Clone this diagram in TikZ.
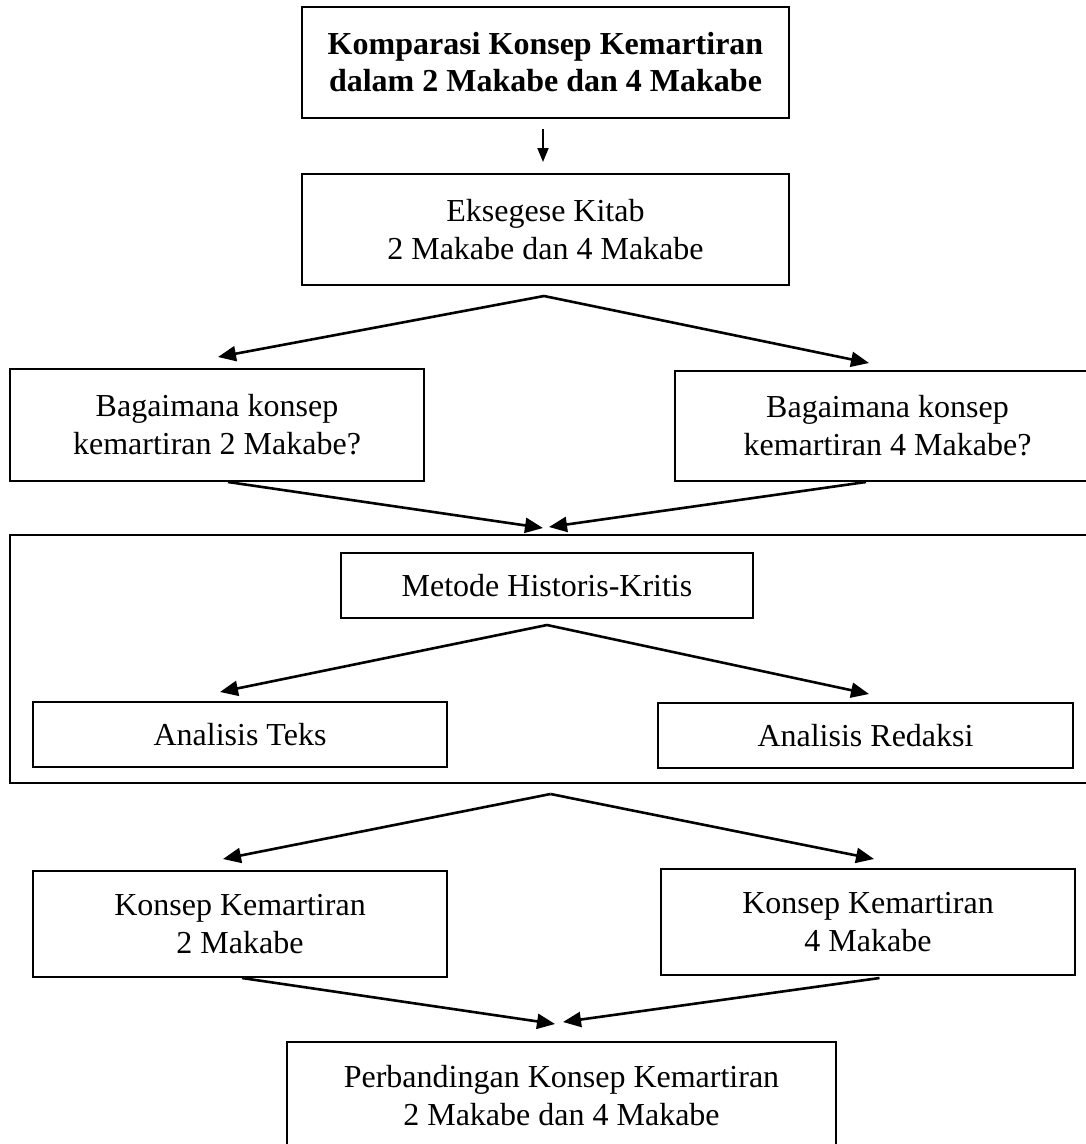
\documentclass[tikz,border=0pt]{standalone}
\usepackage{fontspec}
\setmainfont{Liberation Serif}
\usetikzlibrary{arrows.meta,calc}
\tikzset{
  basebox/.style={rectangle,draw=black,line width=2pt,align=center,inner sep=0pt,
    font=\fontsize{32}{38}\selectfont},
  titlebox/.style={basebox,font=\fontsize{32}{37}\selectfont\bfseries},
  arr/.style={-{Triangle[length=18pt,width=15pt]},line width=2.6pt},
  smallarr/.style={-{Triangle[length=14pt,width=11pt]},line width=1.8pt}
}
\begin{document}
\begin{tikzpicture}[x=1pt,y=-1pt]
  \clip (0,0) rectangle (1086,1144);
  \fill[white] (0,0) rectangle (1086,1144);

  \node[titlebox,minimum width=487pt,minimum height=111pt] (title) at (545.5,62.5)
      {Komparasi Konsep Kemartiran\\dalam 2 Makabe dan 4 Makabe};
  \node[basebox,minimum width=487pt,minimum height=111pt] (exeg) at (545.5,229.5)
      {Eksegese Kitab\\2 Makabe dan 4 Makabe};
  \node[basebox,minimum width=414pt,minimum height=112pt] (q2) at (217,425)
      {Bagaimana konsep\\kemartiran 2 Makabe?};
  \node[basebox,minimum width=425pt,minimum height=110pt] (q4) at (887.5,426)
      {Bagaimana konsep\\kemartiran 4 Makabe?};
  \node[basebox,minimum width=1090pt,minimum height=248pt] (frame) at (555,659) {};
  \node[basebox,minimum width=412pt,minimum height=65pt] (metode) at (547,585.5)
      {Metode Historis-Kritis};
  \node[basebox,minimum width=414pt,minimum height=65pt] (teks) at (240,734.5)
      {Analisis Teks};
  \node[basebox,minimum width=415pt,minimum height=65pt] (redaksi) at (865.5,735.5)
      {Analisis Redaksi};
  \node[basebox,minimum width=414pt,minimum height=106pt] (k2) at (240,924)
      {Konsep Kemartiran\\2 Makabe};
  \node[basebox,minimum width=414pt,minimum height=106pt] (k4) at (868,922)
      {Konsep Kemartiran\\4 Makabe};
  \node[basebox,minimum width=549pt,minimum height=108pt] (result) at (561.5,1096)
      {Perbandingan Konsep Kemartiran\\2 Makabe dan 4 Makabe};

  \draw[smallarr] ($(title.south)+(-2.5,10)$) -- ($(exeg.north)+(-2.5,-11)$);
  \draw[arr] ($(exeg.south)+(-1.5,10)$) -- ($(q2.north)+(1,-11)$);
  \draw[arr] ($(exeg.south)+(-1.5,10)$) -- ($(q4.north)+(-18.5,-7)$);
  \draw[arr] ($(q2.south)+(11,0)$) -- ($(frame.north)+(-12,-6)$);
  \draw[arr] ($(q4.south)+(-21.5,0)$) -- ($(frame.north)+(-6,-7)$);
  \draw[arr] ($(metode.south)+(0,6)$) -- ($(teks.north)+(-20,-9)$);
  \draw[arr] ($(metode.south)+(0,6)$) -- ($(redaksi.north)+(3.5,-8)$);
  \draw[arr] ($(frame.south)+(-4.5,10)$) -- ($(k2.north)+(-17,-11)$);
  \draw[arr] ($(frame.south)+(-4.5,10)$) -- ($(k4.north)+(6,-9)$);
  \draw[arr] ($(k2.south)+(2,0)$) -- ($(result.north)+(-6.5,-17)$);
  \draw[arr] ($(k4.south)+(11.5,2)$) -- ($(result.north)+(1.5,-19)$);
\end{tikzpicture}
\end{document}
